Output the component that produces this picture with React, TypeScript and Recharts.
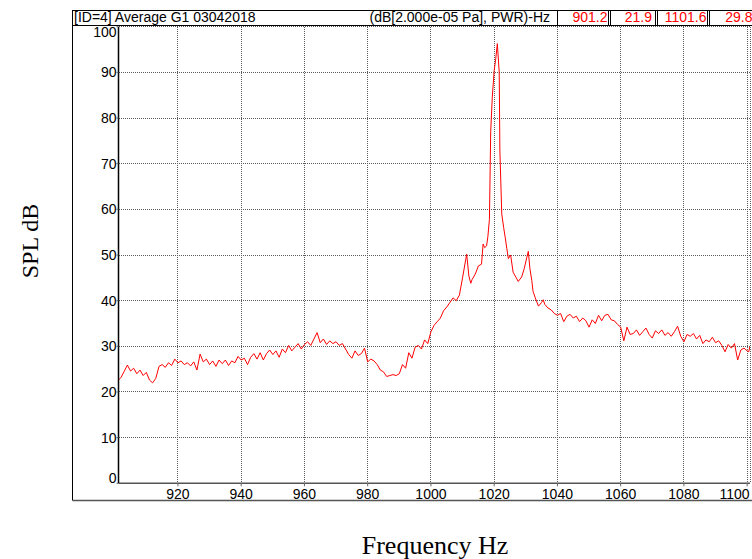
import React from "react";
import { LineChart, Line, XAxis, YAxis, CartesianGrid } from "recharts";

const freqHz: number[] = [
  901.2, 902, 903, 904, 905, 906, 907, 908, 909, 910,
  911, 912, 913, 914, 915, 916, 917, 918, 919, 920,
  921, 922, 923, 924, 925, 926, 927, 928, 929, 930,
  931, 932, 933, 934, 935, 936, 937, 938, 939, 940,
  941, 942, 943, 944, 945, 946, 947, 948, 949, 950,
  951, 952, 953, 954, 955, 956, 957, 958, 959, 960,
  961, 962, 963, 964, 965, 966, 967, 968, 969, 970,
  971, 972, 973, 974, 975, 976, 977, 978, 979, 980,
  981, 982, 983, 984, 985, 986, 987, 988, 989, 990,
  991, 992, 993, 994, 995, 996, 997, 998, 999, 1000,
  1001, 1002, 1003, 1004, 1005, 1006, 1007, 1008, 1009, 1010,
  1011, 1011.3, 1012, 1012.6, 1013, 1014, 1015, 1016, 1016.5, 1017,
  1017.6, 1018, 1018.5, 1018.9, 1019.4, 1020, 1020.5, 1021, 1021.6, 1021.8,
  1022.4, 1023, 1023.5, 1024, 1024.5, 1025.2, 1026, 1027, 1027.6, 1028.7,
  1029.5, 1030.3, 1030.8, 1031.3, 1031.9, 1032.3, 1033, 1034, 1035, 1035.5,
  1036, 1037, 1038, 1039, 1040, 1041, 1042, 1043, 1044, 1045,
  1046, 1047, 1048, 1049, 1050, 1051, 1052, 1053, 1054, 1055,
  1056, 1057, 1058, 1059, 1060, 1061, 1062, 1063, 1064, 1065,
  1066, 1067, 1068, 1069, 1070, 1071, 1072, 1073, 1074, 1075,
  1076, 1077, 1078, 1079, 1080, 1081, 1082, 1083, 1084, 1085,
  1086, 1087, 1088, 1089, 1090, 1091, 1092, 1093, 1094, 1095,
  1096, 1097, 1098, 1099, 1100, 1100.5, 1100.9,
];

const splDb: number[] = [
  22.6, 23.2, 24.5, 25.9, 24.6, 25.2, 24.0, 24.8, 23.6, 24.3,
  22.6, 22.0, 23.0, 25.6, 26.0, 25.4, 26.4, 25.8, 27.2, 26.4,
  26.8, 26.0, 26.4, 25.7, 26.6, 24.8, 28.3, 26.6, 27.2, 26.0,
  26.8, 25.6, 27.0, 26.2, 27.0, 25.8, 26.8, 26.4, 27.8, 27.0,
  27.4, 26.0, 27.6, 28.4, 27.2, 28.6, 27.0, 28.4, 29.2, 28.2,
  29.0, 27.6, 29.4, 28.6, 30.2, 29.0, 29.8, 30.6, 29.4, 30.4,
  31.0, 30.2, 31.6, 33.0, 30.8, 31.6, 30.4, 31.2, 30.6, 31.0,
  30.2, 30.6, 29.4, 28.2, 27.4, 29.0, 28.0, 28.4, 29.6, 26.6,
  27.2, 26.8, 26.0, 24.8, 24.4, 23.4, 23.6, 23.8, 23.6, 24.0,
  26.0, 25.2, 28.6, 27.4, 29.8, 30.2, 29.4, 31.4, 30.6, 33.2,
  34.6, 35.4, 36.2, 37.8, 38.6, 39.6, 40.6, 40.0, 41.2, 45.0,
  49.0, 50.2, 45.4, 43.8, 44.6, 45.8, 47.6, 48.0, 52.4, 51.6,
  52.0, 54.0, 57.8, 77.0, 84.5, 90.4, 93.0, 96.3, 90.0, 73.0,
  59.0, 56.0, 53.8, 51.4, 49.2, 50.0, 46.2, 45.0, 44.2, 45.2,
  47.0, 49.4, 50.8, 47.0, 44.4, 42.0, 40.6, 38.8, 39.6, 40.2,
  39.2, 38.4, 38.0, 37.2, 36.8, 37.2, 35.4, 36.6, 37.0, 36.2,
  36.6, 35.4, 36.2, 35.6, 34.2, 35.8, 35.0, 36.8, 35.6, 36.8,
  37.0, 35.8, 35.6, 34.8, 34.2, 31.2, 34.2, 32.6, 32.8, 33.6,
  32.4, 33.2, 34.0, 32.6, 31.8, 33.4, 32.8, 33.6, 32.4, 33.0,
  32.2, 33.2, 34.4, 32.2, 31.0, 32.6, 32.2, 32.8, 31.6, 32.4,
  30.6, 31.4, 31.0, 32.0, 30.8, 31.2, 30.2, 28.8, 30.4, 29.6,
  30.6, 27.0, 29.2, 29.6, 29.0, 28.8, 30.0,
];

const xTicks: number[] = [920, 940, 960, 980, 1000, 1020, 1040, 1060, 1080, 1100];
const yTicks: number[] = [0, 10, 20, 30, 40, 50, 60, 70, 80, 90, 100];
const xDomain: [number, number] = [901.2, 1100.9];
const yDomain: [number, number] = [0, 100];

const headerLeft = "[ID=4] Average G1 03042018";
const headerUnits = "(dB[2.000e-05 Pa], PWR)-Hz";
const cursorValues: string[] = ["901.2", "21.9", "1101.6", "29.8"];
const xTitle = "Frequency Hz";
const yTitle = "SPL dB";

const data = freqHz.map((f, i) => ({ f, db: splDb[i] }));

const SANS = "'Liberation Sans', Arial, sans-serif";
const SERIF = "'Liberation Serif', 'Times New Roman', serif";

const YTick = (props: any) => {
  const { x, y, payload } = props;
  let off = 0;
  if (payload.value === 100) off = 5;
  if (payload.value === 0) off = -5;
  return (
    <text x={x} y={y + off} dy="0.355em" textAnchor="end" fontFamily={SANS} fontSize={14} fill="#000">
      {payload.value}
    </text>
  );
};

const XTick = (props: any) => {
  const { x, y, payload } = props;
  const last = payload.value === 1100;
  return (
    <text x={last ? x + 2.5 : x} y={y} dy="0.71em" textAnchor={last ? "end" : "middle"} fontFamily={SANS} fontSize={14} fill="#000">
      {payload.value}
    </text>
  );
};

const boxes: [number, number, number][] = [
  [557.5, 608.5, 607.5],
  [610.5, 655.5, 652],
  [657.5, 707.5, 706.5],
  [709.5, 770, 752.5],
];

export default function App() {
  return (
    <div style={{ position: "fixed", left: 0, top: 0, width: 752, height: 559, background: "#fff", overflow: "hidden" }}>
      <LineChart
        width={752}
        height={559}
        data={data}
        margin={{ top: 26.7, left: 78.5, right: 2, bottom: 45.7 }}
      >
        <CartesianGrid stroke="#5a5a5a" strokeDasharray="1 1" shapeRendering="crispEdges" />
        <XAxis
          type="number"
          dataKey="f"
          domain={xDomain}
          ticks={xTicks}
          allowDataOverflow
          height={30}
          tickSize={3}
          tickMargin={3}
          axisLine={{ stroke: "#555", strokeWidth: 1.5 }}
          tickLine={{ stroke: "#666" }}
          tick={<XTick />}
          interval={0}
        />
        <YAxis
          type="number"
          domain={yDomain}
          ticks={yTicks}
          width={40}
          tickSize={2}
          tickMargin={0}
          axisLine={{ stroke: "#000", strokeWidth: 1.5 }}
          tickLine={{ stroke: "#666" }}
          tick={<YTick />}
          interval={0}
        />
        <YAxis
          yAxisId="r"
          orientation="right"
          type="number"
          domain={yDomain}
          width={0}
          tick={false}
          tickLine={false}
          axisLine={{ stroke: "#000", strokeWidth: 1.5 }}
        />
        <Line
          type="linear"
          dataKey="db"
          stroke="#ff0000"
          strokeWidth={1}
          dot={false}
          isAnimationActive={false}
        />
      </LineChart>
      <svg width={752} height={559} style={{ position: "absolute", left: 0, top: 0, pointerEvents: "none" }}>
        <line x1={72.5} y1={10} x2={72.5} y2={500.5} stroke="#000" strokeWidth={1} />
        <line x1={72.5} y1={500.5} x2={752} y2={500.5} stroke="#555" strokeWidth={1.5} />
        <line x1={72} y1={10.5} x2={752} y2={10.5} stroke="#000" strokeWidth={1} />
        <line x1={72} y1={25.5} x2={752} y2={25.5} stroke="#000" strokeWidth={1} />
        <text x={74} y={22} fontFamily={SANS} fontSize={14} fill="#000">{headerLeft}</text>
        <text x={550} y={22} textAnchor="end" fontFamily={SANS} fontSize={14} fill="#000">{headerUnits}</text>
        {boxes.map(([l, r, tx], i) => (
          <g key={i}>
            <rect x={l} y={10.5} width={r - l} height={15} fill="#fff" stroke="#000" strokeWidth={1} />
            <text x={tx} y={22} textAnchor="end" fontFamily={SANS} fontSize={14} fill="#ff0000">{cursorValues[i]}</text>
          </g>
        ))}
        <text x={435} y={554} textAnchor="middle" fontFamily={SERIF} fontSize={26} fill="#000">{xTitle}</text>
        <text x={0} y={0} transform="translate(38,241) rotate(-90)" textAnchor="middle" fontFamily={SERIF} fontSize={24} fill="#000">{yTitle}</text>
      </svg>
    </div>
  );
}
